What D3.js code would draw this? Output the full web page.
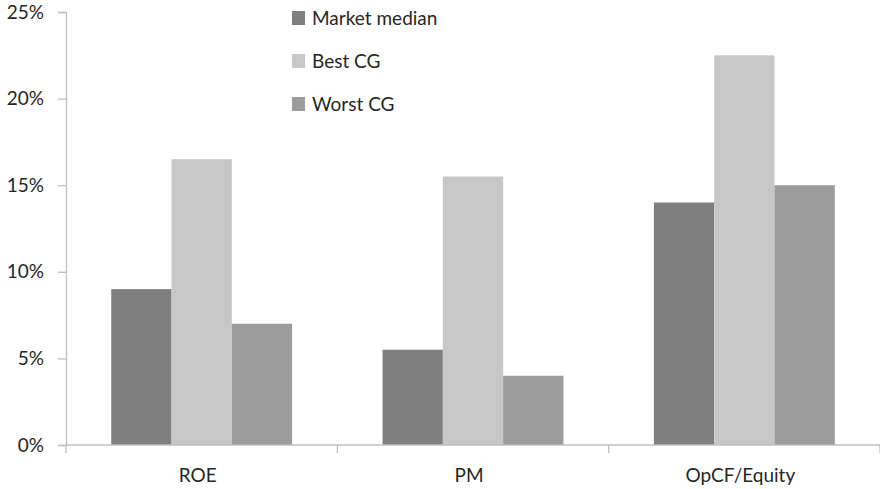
<!DOCTYPE html>
<html>
<head>
<meta charset="utf-8">
<script src="https://cdn.jsdelivr.net/npm/d3@7"></script>
<style>
  html, body { margin: 0; padding: 0; background: #fff; }
  svg { display: block; font-family: Lato, "Open Sans", sans-serif; }
</style>
</head>
<body>
<svg id="chart" width="880" height="489"></svg>
<script>
// Profitability measures by corporate governance group
const categories = ["ROE", "PM", "OpCF/Equity"];
const seriesNames = ["Market median", "Best CG", "Worst CG"];
const marketMedian = [9, 5.5, 14];
const bestCG = [16.5, 15.5, 22.5];
const worstCG = [7, 4, 15];
const yTicks = [0, 5, 10, 15, 20, 25];

const seriesValues = [marketMedian, bestCG, worstCG];
const colors = ["#7f7f7f", "#c6c7c6", "#9b9c9b"];

const svg = d3.select("#chart");
const margin = { left: 66, right: 0, top: 12, bottom: 44 };
const W = 880, H = 489;
const fontSize = "19px";

const x = d3.scaleBand().domain(categories).range([margin.left, W - margin.right]);
const inner = d3.scaleBand().domain(d3.range(seriesNames.length))
  .range([0, x.bandwidth()]).paddingOuter(0.75).paddingInner(0);
const y = d3.scaleLinear().domain([0, 25]).range([H - margin.bottom, margin.top]);

// bars
const groups = svg.append("g").selectAll("g")
  .data(categories).join("g")
  .attr("transform", c => `translate(${x(c)},0)`);

groups.selectAll("rect")
  .data((c, ci) => seriesValues.map((vals, si) => ({ si, v: vals[ci] })))
  .join("rect")
  .attr("x", d => inner(d.si))
  .attr("width", inner.bandwidth())
  .attr("y", d => y(d.v))
  .attr("height", d => y(0) - y(d.v))
  .attr("fill", d => colors[d.si]);

const axisColor = "#bfbfbf";
const textColor = "#262626";

// y axis
const yAxis = svg.append("g")
  .attr("transform", `translate(${margin.left},0)`)
  .call(d3.axisLeft(y).tickValues(yTicks).tickSize(8).tickPadding(14)
    .tickFormat(d => d + "%"));
yAxis.select(".domain").attr("stroke", axisColor).attr("stroke-width", 1.3);
yAxis.selectAll(".tick line").attr("stroke", axisColor).attr("stroke-width", 1.3);
yAxis.selectAll(".tick text").attr("fill", textColor)
  .style("font-size", fontSize).style("font-family", "Lato, sans-serif");

// x axis line with separators between categories
const xAxisG = svg.append("g");
xAxisG.append("line")
  .attr("x1", margin.left).attr("x2", W)
  .attr("y1", y(0)).attr("y2", y(0))
  .attr("stroke", axisColor).attr("stroke-width", 1.3);
const boundaries = categories.map(c => x(c)).concat([x(categories[categories.length - 1]) + x.bandwidth()]);
xAxisG.selectAll("line.sep").data(boundaries).join("line")
  .attr("class", "sep")
  .attr("x1", d => d).attr("x2", d => d)
  .attr("y1", y(0)).attr("y2", y(0) + 8)
  .attr("stroke", axisColor).attr("stroke-width", 1.3);
xAxisG.selectAll("text").data(categories).join("text")
  .attr("x", c => x(c) + x.bandwidth() / 2 - 4)
  .attr("y", 482)
  .attr("text-anchor", "middle")
  .attr("fill", textColor)
  .style("font-size", fontSize)
  .text(c => c);

// legend
const legend = svg.append("g").attr("transform", "translate(292,11)");
const items = legend.selectAll("g").data(seriesNames).join("g")
  .attr("transform", (d, i) => `translate(0,${i * 43})`);
items.append("rect").attr("width", 13).attr("height", 14)
  .attr("fill", (d, i) => colors[i]);
items.append("text").attr("x", 20).attr("y", 14)
  .attr("fill", textColor).style("font-size", fontSize)
  .text(d => d);
</script>
</body>
</html>
